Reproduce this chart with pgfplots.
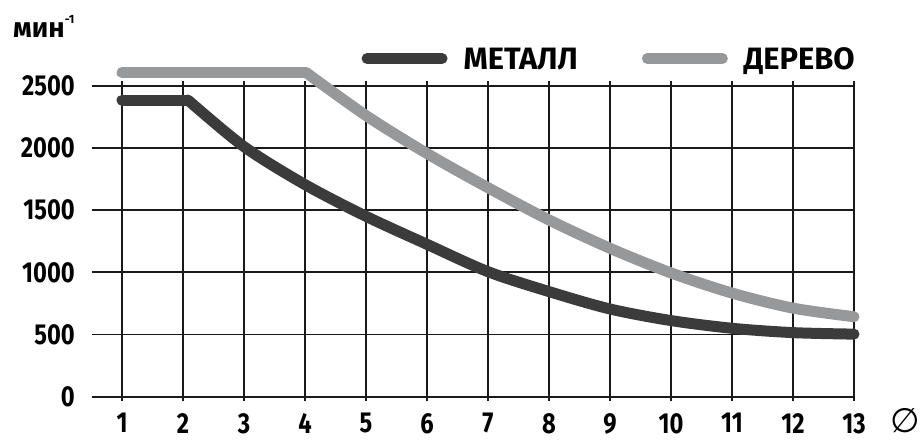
\documentclass[border=0pt]{standalone}
\usepackage{fontspec}
\usepackage{pgfplots}
\pgfplotsset{compat=1.18}
\newfontfamily\chartfont{Fira Sans}[FakeStretch=0.82]
\newfontfamily\labelfont{Fira Sans}
\newfontfamily\symfont{DejaVu Sans}
\definecolor{metal}{HTML}{3B3B3B}
\definecolor{wood}{HTML}{97989A}
\definecolor{gridc}{HTML}{1A1A1A}

\begin{document}
\begin{tikzpicture}
\useasboundingbox (-92bp,-44.3bp) rectangle (832bp,396.7bp);
\begin{axis}[
    at={(0,0)}, anchor=south west,
    scale only axis, width=762bp, height=311bp,
    xmin=0.508, xmax=13, ymin=0, ymax=2500,
    clip=false,
    xtick={1,2,...,13}, ytick={0,500,...,2500},
    grid=major, grid style={gridc, line width=1.8bp},
    axis line style={draw=none},
    tick align=outside, major tick length=4.5bp,
    xtick style={gridc, line width=1.8bp},
    ytick style={draw=none},
    /pgf/number format/assume math mode=true,
    /pgf/number format/1000 sep={},
    tick label style={font=\chartfont\bfseries\fontsize{29}{29}\selectfont, inner sep=0pt},
    xticklabel style={anchor=north, yshift=-12bp},
    yticklabel style={anchor=east, xshift=-12.5bp},
    ylabel={мин\raisebox{14bp}{\fontsize{12}{12}\selectfont -1}},
    ylabel style={rotate=-90, at={(rel axis cs:0,1)}, anchor=base west,
        xshift=-79bp, yshift=48.4bp, inner sep=0pt,
        font=\labelfont\bfseries\fontsize{28}{28}\selectfont},
    xlabel={\symfont ∅},
    xlabel style={at={(rel axis cs:1,0)}, anchor=center, xshift=51bp, yshift=-24bp,
        inner sep=0pt, font=\fontsize{34}{34}\selectfont},
    legend columns=2,
    legend style={draw=none, fill=none, inner sep=0pt, outer sep=0pt,
        at={(1.001,1.0875)}, anchor=east,
        font=\labelfont\bfseries\fontsize{31}{31}\selectfont,
        nodes={inner sep=0pt, text depth=0pt},
        /tikz/every even column/.append style={column sep=64bp}},
    legend image code/.code={
        \draw[#1, line width=11bp, line cap=round] (5.5bp,0bp) -- (80.5bp,0bp);
        \path[draw=none, fill=none] (0bp,0bp) -- (102bp,0bp);},
]
\addplot[metal, line width=11bp, line cap=round, forget plot]
    coordinates {(1,2385)(2.08,2385)};
\addplot[metal, line width=11bp, line cap=round, line join=round, smooth]
    coordinates {(2.08,2385)(3,2010)(4,1705)(5,1450)(6,1225)(7,1005)
                 (8,845)(9,705)(10,612)(11,550)(12,515)(13,503)};
\addlegendentry{МЕТАЛЛ}
\addplot[wood, line width=11bp, line cap=round, forget plot]
    coordinates {(1,2605)(4.02,2605)};
\addplot[wood, line width=11bp, line cap=round, line join=round, smooth]
    coordinates {(4.02,2605)(5,2260)(6,1955)(7,1680)(8,1421)(9,1193)
                 (10,995)(11,833)(12,712)(13,643)};
\addlegendentry{ДЕРЕВО}
\end{axis}
\end{tikzpicture}
\end{document}
